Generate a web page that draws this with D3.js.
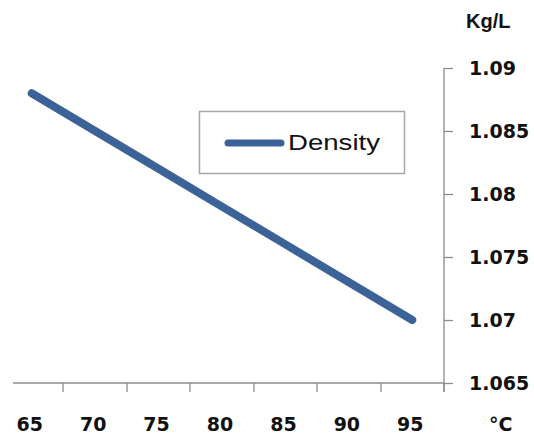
<!DOCTYPE html>
<html>
<head>
<meta charset="utf-8">
<script src="https://cdn.jsdelivr.net/npm/d3@7"></script>
<style>
  body { margin: 0; background: #fff; }
  .tick-label { font-family: "DejaVu Sans", Verdana, sans-serif; font-weight: bold; fill: #111; }
</style>
</head>
<body>
<div id="chart"></div>
<script>
// data
var temps = ["65", "70", "75", "80", "85", "90", "95"];
var density = [1.088, 1.085, 1.082, 1.079, 1.076, 1.073, 1.070];
var yTicks = [1.065, 1.07, 1.075, 1.08, 1.085, 1.09];
var seriesName = "Density";

var width = 534, height = 434;
var plot = {left: 0, right: 444, top: 68, bottom: 383};

var svg = d3.select("#chart")
  .append("svg")
    .attr("width", width)
    .attr("height", height);

var x = d3.scaleBand()
  .domain(temps)
  .range([plot.left, plot.right]);

var y = d3.scaleLinear()
  .domain([1.065, 1.09])
  .range([plot.bottom, plot.top]);

var axisColor = "#8c8c8c";

// x axis line + ticks at band boundaries
svg.append("line")
  .attr("x1", 13).attr("x2", plot.right)
  .attr("y1", plot.bottom).attr("y2", plot.bottom)
  .attr("stroke", axisColor).attr("stroke-width", 1.3);

svg.append("g")
  .selectAll("line")
  .data(temps)
  .enter()
  .append("line")
    .attr("x1", function(d) { return Math.round(x(d) + x.bandwidth()); })
    .attr("x2", function(d) { return Math.round(x(d) + x.bandwidth()); })
    .attr("y1", plot.bottom)
    .attr("y2", plot.bottom + 9)
    .attr("stroke", axisColor).attr("stroke-width", 1.3);

svg.append("g")
  .selectAll("text")
  .data(temps)
  .enter()
  .append("text")
    .attr("class", "tick-label")
    .attr("x", function(d) { return x(d) + x.bandwidth() / 2 - 2; })
    .attr("y", 431)
    .attr("text-anchor", "middle")
    .style("font-size", "19px")
    .text(function(d) { return d; });

svg.append("text")
  .attr("class", "tick-label")
  .attr("x", 489)
  .attr("y", 431)
  .style("font-size", "19px")
  .text("°C");

// y axis on the right
var yAxis = svg.append("g")
  .attr("transform", "translate(" + plot.right + ",0)")
  .call(d3.axisRight(y).tickValues(yTicks).tickSize(9).tickSizeOuter(0)
    .tickFormat(function(d) { return String(+d.toFixed(3)); }));

yAxis.select(".domain")
  .attr("stroke", axisColor).attr("stroke-width", 1.3)
  .attr("d", "M0," + (plot.top) + "V" + (plot.bottom + 9));
yAxis.selectAll(".tick line").attr("stroke", axisColor).attr("stroke-width", 1.3);
yAxis.selectAll(".tick text")
  .attr("class", "tick-label")
  .attr("x", 25)
  .attr("dy", "0.36em")
  .style("font-size", "19px");

svg.append("text")
  .attr("x", 466)
  .attr("y", 28)
  .style("font-family", "'Liberation Sans', Arial, sans-serif")
  .style("font-weight", "bold")
  .style("font-size", "20px")
  .attr("fill", "#111")
  .text("Kg/L");

// the series
var lineColor = "#3b6398";
var line = d3.line()
  .x(function(d, i) { return x(temps[i]) + x.bandwidth() / 2; })
  .y(function(d) { return y(d); });

svg.append("path")
  .datum(density)
  .attr("d", line)
  .attr("fill", "none")
  .attr("stroke", lineColor)
  .attr("stroke-width", 8)
  .attr("stroke-linecap", "round")
  .attr("stroke-linejoin", "round");

// legend
var legend = svg.append("g");
legend.append("rect")
  .attr("x", 199.5).attr("y", 111.5)
  .attr("width", 205).attr("height", 62)
  .attr("fill", "#fff")
  .attr("stroke", "#a6a6a6").attr("stroke-width", 1.5);
legend.append("line")
  .attr("x1", 228).attr("x2", 281)
  .attr("y1", 143).attr("y2", 143)
  .attr("stroke", lineColor).attr("stroke-width", 7)
  .attr("stroke-linecap", "round");
legend.append("text")
  .attr("x", 288)
  .attr("y", 150)
  .attr("textLength", 92)
  .attr("lengthAdjust", "spacingAndGlyphs")
  .style("font-family", "'Liberation Sans', Arial, sans-serif")
  .style("font-size", "22px")
  .attr("fill", "#111")
  .text(seriesName);
</script>
</body>
</html>
